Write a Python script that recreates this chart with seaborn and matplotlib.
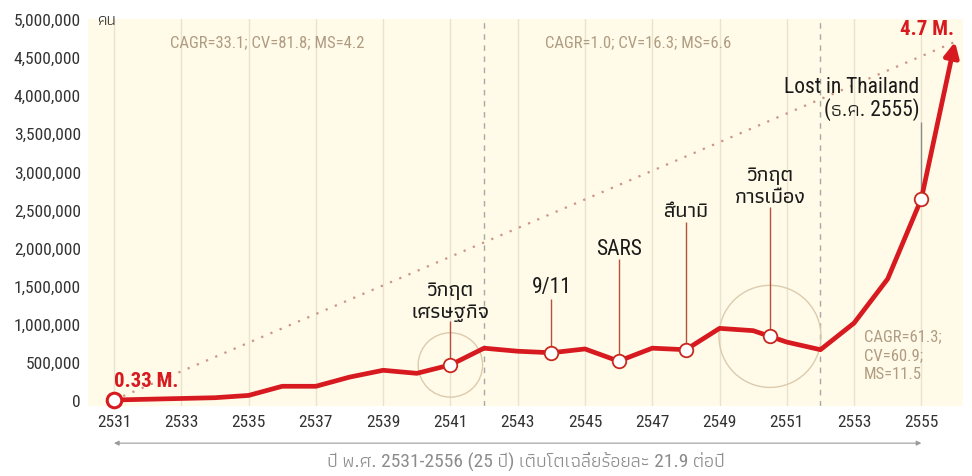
import numpy as np
import pandas as pd
import seaborn as sns
import matplotlib
matplotlib.use('Agg')
import matplotlib.pyplot as plt
from matplotlib import font_manager

# data
years = list(range(2531, 2557))
visitors = [0.00, 0.01, 0.02, 0.03, 0.06, 0.18, 0.18, 0.30, 0.39, 0.35,
            0.46, 0.68, 0.64, 0.62, 0.67, 0.51, 0.68, 0.66, 0.94, 0.91,
            0.76, 0.66, 1.01, 1.59, 2.64, 4.70]
visitors = [v * 1e6 for v in visitors]

event_years = [2541, 2544, 2546, 2548, 2550.5, 2555]
event_labels = ['วิกฤต\nเศรษฐกิจ', '9/11', 'SARS', 'สึนามิ',
                'วิกฤต\nการเมือง', 'Lost in Thailand\n(ธ.ค. 2555)']
circle_years = [2541, 2550.5]

period_breaks = [2542, 2552]
period_stats = ['CAGR=33.1; CV=81.8; MS=4.2',
                'CAGR=1.0; CV=16.3; MS=6.6',
                'CAGR=61.3;\nCV=60.9;\nMS=11.5']

yticks = list(range(0, 5000001, 500000))
xticks = list(range(2531, 2556, 2))
start_label = '0.33 M.'
end_label = '4.7 M.'
unit_label = 'คน'
footer = 'ปี พ.ศ. 2531-2556 (25 ปี) เติบโตเฉลี่ยร้อยละ 21.9 ต่อปี'

# fonts
names = {f.name for f in font_manager.fontManager.ttflist}
def pick(cands):
    for c in cands:
        if c in names:
            return c
    return 'DejaVu Sans'
latin = pick(['Roboto Condensed', 'Open Sans Condensed', 'Roboto', 'DejaVu Sans'])
thai = pick(['Athiti', 'Kanit', 'Prompt', 'Noto Sans Thai', 'Sarabun', 'Mitr'])

sns.set_theme(style='white')
plt.rcParams['font.family'] = [latin, thai, 'DejaVu Sans']

red = '#d71920'
tan = '#b09c82'
cream = '#fffbe8'

df = pd.DataFrame({'year': years, 'visitors': visitors})
ev = pd.DataFrame({'year': event_years,
                   'visitors': np.interp(event_years, years, visitors)})

fig = plt.figure(figsize=(9.72, 4.77), dpi=100)
ax = fig.add_axes([88 / 972, 1 - 407 / 477, 875 / 972, 387 / 477])
ax.set_facecolor(cream)
for s in ax.spines.values():
    s.set_visible(False)

ax.grid(axis='x', color='#e8e3cf', lw=1)
ax.grid(axis='y', visible=False)
ax.set_axisbelow(True)

for b in period_breaks:
    ax.axvline(b, color='#a8a8a8', lw=1, ls=(0, (4, 4)), zorder=1)

# dotted trend from start to end
ax.plot([years[0], years[-1]], [visitors[0], visitors[-1]], color='#cc9484',
        lw=1.6, ls=(0, (1, 3.5)), zorder=2)

# main line + arrow head on last segment
sns.lineplot(data=df.iloc[:-1], x='year', y='visitors', color=red, lw=3.4,
             ax=ax, zorder=4, solid_capstyle='round')
ax.annotate('', xy=(years[-1], visitors[-1]), xytext=(years[-2], visitors[-2]),
            arrowprops=dict(arrowstyle='-|>', color=red, lw=3.4,
                            mutation_scale=22, shrinkA=0, shrinkB=0), zorder=4)

# big circles
cv = np.interp(circle_years, years, visitors)
ax.scatter(circle_years, cv, s=[2150, 5400], facecolors='none',
           edgecolors='#dccbae', lw=1, zorder=3)

# stems and labels
label_bottom = [1.02e6, 1.35e6, 1.85e6, 2.35e6, 2.53e6, 3.68e6]
stem_top = [1.04e6, 1.33e6, 1.85e6, 2.34e6, 2.53e6, 3.65e6]
for i, (x, v, lab) in enumerate(zip(event_years, ev['visitors'], event_labels)):
    last = i == len(event_years) - 1
    thai_only = not any(c.isascii() and c.isalnum() for c in lab)
    ax.vlines(x, v, stem_top[i], color='#8c8c8c' if last else '#b5523b',
              lw=1, zorder=3)
    ax.text(x + (0.0 if not last else -0.05), label_bottom[i], lab,
            ha='right' if last else 'center', va='bottom',
            fontsize=15.5, color='#1a1a1a', linespacing=1.0, zorder=5,
            fontweight='medium' if thai_only else 'normal')

sns.scatterplot(data=ev, x='year', y='visitors', s=95, color='white',
                edgecolor='#c8281e', linewidth=1.3, ax=ax, zorder=6)
ax.scatter([years[0]], [visitors[0]], s=110, color='white', edgecolors=red,
           lw=2.2, zorder=6, clip_on=False)

ax.set_xlim(2531 - 26 / 33.64, 2556 + 8 / 33.64)
ax.set_ylim(-6 / 76.2 * 1e6, 5.0e6)
ax.set_xticks(xticks)
ax.set_yticks(yticks)
ax.set_yticklabels(['{:,}'.format(v) for v in yticks])
ax.tick_params(length=0, labelsize=12.5, colors='#333333')
ax.tick_params(axis='x', pad=6)
ax.tick_params(axis='y', pad=5)
ax.set_xlabel('')
ax.set_ylabel('')

# stats per period
ax.text(2532.66, 4.71e6, period_stats[0], fontsize=12, color=tan, va='center')
ax.text(2543.8, 4.71e6, period_stats[1], fontsize=12, color=tan, va='center')
ax.text(2553.3, 0.945e6, period_stats[2], fontsize=12, color=tan, va='top',
        linespacing=1.35)

ax.text(years[0], 0.26e6, start_label, fontsize=15, color=red,
        fontweight='bold', va='center')
ax.text(years[-1] - 0.02, 4.87e6, end_label, fontsize=15, color=red,
        fontweight='bold', va='center', ha='right', clip_on=False)
ax.text(2530.5, 5.0e6, unit_label, fontsize=12, color='#333333',
        va='center', clip_on=False)

# bottom range arrow and note
ax.annotate('', xy=(2555, -0.096), xytext=(2531, -0.096),
            xycoords=('data', 'axes fraction'), textcoords=('data', 'axes fraction'),
            arrowprops=dict(arrowstyle='<|-|>', color='#9a9a9a', lw=0.8,
                            mutation_scale=7, shrinkA=0, shrinkB=0),
            annotation_clip=False)
ax.text(2543.24, -0.14, footer, transform=ax.get_xaxis_transform(),
        ha='center', va='center', fontsize=14, color='#8c8c8c')

fig.savefig('out.png', dpi=100, facecolor='white')
